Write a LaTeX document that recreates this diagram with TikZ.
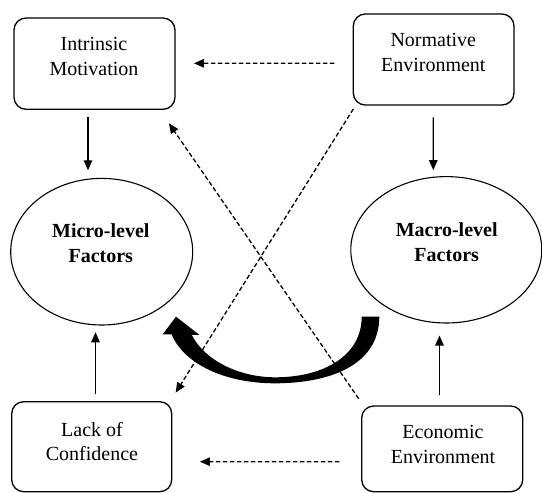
\documentclass[tikz,border=0pt]{standalone}
\usepackage{fontspec}
\setmainfont{Liberation Serif}
\usetikzlibrary{arrows.meta,calc,shapes.geometric}
\begin{document}
\begin{tikzpicture}[x=1pt,y=-1pt,
  box/.style={draw, line width=1.3pt, rounded corners=12pt, inner sep=0pt},
  oval/.style={draw, ellipse, line width=1.1pt, inner sep=0pt},
  txt/.style={align=center, inner sep=0pt, font=\fontsize{20}{24.5}\selectfont},
  btxt/.style={align=center, inner sep=0pt, font=\fontsize{20}{24.5}\selectfont\bfseries},
  arr/.style={line width=1.2pt, -{Triangle[length=10pt,width=8.5pt]}},
  darr/.style={line width=1.3pt, dash pattern=on 4.5pt off 2.5pt, -{Triangle[length=10pt,width=8.5pt]}},
  bigarrow/.style={fill=black, draw=none}
]
\useasboundingbox (0,0) rectangle (542,493);

% boxes
\node[box, minimum width=161pt, minimum height=91.3pt] (im) at (94.5,63.65) {};
\node[box, minimum width=160.7pt, minimum height=91pt] (ne) at (433.65,59.5) {};
\node[box, minimum width=160pt, minimum height=90pt] (lc) at (91.7,446.7) {};
\node[box, minimum width=161pt, minimum height=85.7pt] (ee) at (442.2,448.85) {};

% ellipses
\node[oval, minimum width=182pt, minimum height=146.6pt] (mi) at (101.7,251.7) {};
\node[oval, minimum width=191pt, minimum height=146.4pt] (ma) at (446.3,249.8) {};

% texts
\node[txt] (imt) at (94,56.5) {Intrinsic\\Motivation};
\node[txt] (net) at (433.3,52.3) {Normative\\Environment};
\node[txt] (lct) at (92,441.8) {Lack of\\Confidence};
\node[txt] (eet) at (443,444.5) {Economic\\Environment};
\node[btxt] (mit) at (100.8,243.3) {Micro-level\\Factors};
\node[btxt] (mat) at (446.7,242) {Macro-level\\Factors};

% big curved arrow
\fill[bigarrow] (361.7,316.7) -- (379.3,316.7)
  .. controls (379.3,365) and (330,383.3) .. (275,383.3)
  .. controls (225,383.3) and (184,364) .. (171.7,334.5)
  -- (162.7,334.3) -- (176,316.7) -- (199.3,334.8) -- (191.7,334.8)
  .. controls (205,361) and (240,377.3) .. (275,377.3)
  .. controls (325,377.3) and (361.7,355) .. (361.7,316.7) -- cycle;

% solid arrows
\draw[arr] ($(im.south)+(-6.5,7.4)$) -- ($(mi.north)+(-13.7,-7.6)$);
\draw[arr] ($(ne.south)+(-0.35,11.7)$) -- ($(ma.north)+(-13,-5.9)$);
\draw[arr] ($(lc.north)+(3.8,-6.7)$) -- ($(mi.south)+(-6.2,6.7)$);
\draw[arr] ($(ee.north)+(-2.7,-10)$) -- ($(ma.south)+(-6.8,12)$);

% dashed arrows
\draw[darr] ($(ne.west)+(-18.3,3.8)$) -- ($(im.east)+(18.3,-0.35)$);
\draw[darr] ($(ee.west)+(-21.7,12.85)$) -- ($(lc.east)+(27.6,15)$);
\draw[darr] ($(ne.south west)+(0.7,3.3)$) -- ($(lc.north east)+(3.3,-8.4)$);
\draw[darr] ($(ee.north west)+(-2.4,-6.7)$) -- ($(im.south east)+(-6.7,13.4)$);
\end{tikzpicture}
\end{document}
